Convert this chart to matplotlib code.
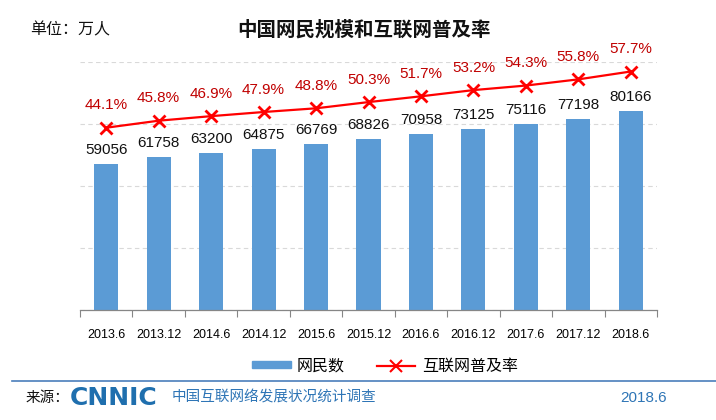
import matplotlib
matplotlib.use("Agg")
import matplotlib.pyplot as plt
import numpy as np
from matplotlib.lines import Line2D
from matplotlib.patches import Patch

plt.rcParams['font.family'] = ['Noto Sans CJK SC', 'DejaVu Sans']

categories = ["2013.6", "2013.12", "2014.6", "2014.12", "2015.6", "2015.12",
              "2016.6", "2016.12", "2017.6", "2017.12", "2018.6"]
users = [59056, 61758, 63200, 64875, 66769, 68826, 70958, 73125, 75116, 77198, 80166]
rate = [44.1, 45.8, 46.9, 47.9, 48.8, 50.3, 51.7, 53.2, 54.3, 55.8, 57.7]

W, H = 716, 420
fig = plt.figure(figsize=(W / 100, H / 100), dpi=100)

L, R, B, T = 80, 657, 310, 62
ax = fig.add_axes([L / W, 1 - B / H, (R - L) / W, (B - T) / H])
x = np.arange(len(categories))
bar_color = "#5B9BD5"
ax.bar(x, users, width=0.46, color=bar_color, zorder=2)
ax.set_xlim(-0.5, len(categories) - 0.5)
ax.set_ylim(0, 100000)
ax.set_yticks([0, 25000, 50000, 75000, 100000])
ax.yaxis.grid(True, linestyle=(0, (4, 3)), color="#D9D9D9", linewidth=0.8, zorder=0)
ax.set_axisbelow(True)
ax.tick_params(axis='y', which='both', left=False, right=False, length=0,
               labelleft=False, labelright=False)
for s in ["left", "right", "top"]:
    ax.spines[s].set_visible(False)
ax.spines["bottom"].set_color("#868686")
ax.spines["bottom"].set_linewidth(0.9)
ax.set_xticks(np.arange(-0.5, len(categories), 1.0))
ax.set_xticklabels([])
ax.tick_params(axis='x', length=5, color="#868686", direction='out')
ax.set_xticks(x, minor=True)
ax.set_xticklabels(categories, minor=True, fontsize=9, family=['Liberation Sans', 'DejaVu Sans'])
ax.tick_params(axis='x', which='minor', length=0, pad=14)

for xi, v in zip(x, users):
    ax.annotate(str(v), (xi, v), xytext=(0, 5), textcoords="offset points",
                ha="center", va="bottom", fontsize=11, color="#111111",
                family=['Liberation Sans', 'DejaVu Sans'])

ax2 = ax.twinx()
ax2.set_ylim(0, 60)
ax2.axis("off")
ax2.plot(x, rate, color="#FF0000", linewidth=1.6, marker="x", markersize=9,
         markeredgewidth=2, zorder=3)
for xi, v in zip(x, rate):
    ax2.annotate(f"{v}%", (xi, v), xytext=(0, 11), textcoords="offset points",
                 ha="center", va="bottom", fontsize=11, color="#C00000",
                 family=['Liberation Sans', 'DejaVu Sans'])

# titles
fig.text(364 / W, 1 - 30 / H, "中国网民规模和互联网普及率", ha="center", va="center",
         fontsize=14, fontweight="bold", color="#111111")
fig.text(30 / W, 1 - 30 / H, "单位：万人", ha="left", va="center", fontsize=11.5, color="#111111")

# legend
handles = [Patch(color=bar_color), Line2D([0], [0], color="#FF0000", marker="x", markersize=8, markeredgewidth=1.5, linewidth=1.6)]
leg = fig.legend(handles, ["网民数", "互联网普及率"], loc="center", bbox_to_anchor=(385 / W, 1 - 366 / H),
                 ncol=2, frameon=False, fontsize=11.5, handlelength=2.4, handleheight=0.3,
                 columnspacing=2.0, handletextpad=0.4)

# footer
fig.add_artist(Line2D([12 / W, 1.0], [1 - 381 / H, 1 - 381 / H], color="#4A7EBB", linewidth=1.2))
fig.text(26 / W, 1 - 398 / H, "来源：", ha="left", va="center", fontsize=10.5, color="#111111")
fig.text(70 / W, 1 - 398 / H, "CNNIC", ha="left", va="center", fontsize=18, fontweight="bold",
         color="#1F6FAE", family=['DejaVu Sans'])
fig.text(172 / W, 1 - 398 / H, "中国互联网络发展状况统计调查", ha="left", va="center", fontsize=10.5, color="#2E75B6")
fig.text(667 / W, 1 - 398 / H, "2018.6", ha="right", va="center", fontsize=11, color="#2E75B6",
         family=['Liberation Sans', 'DejaVu Sans'])

fig.savefig("out.png", dpi=100)
